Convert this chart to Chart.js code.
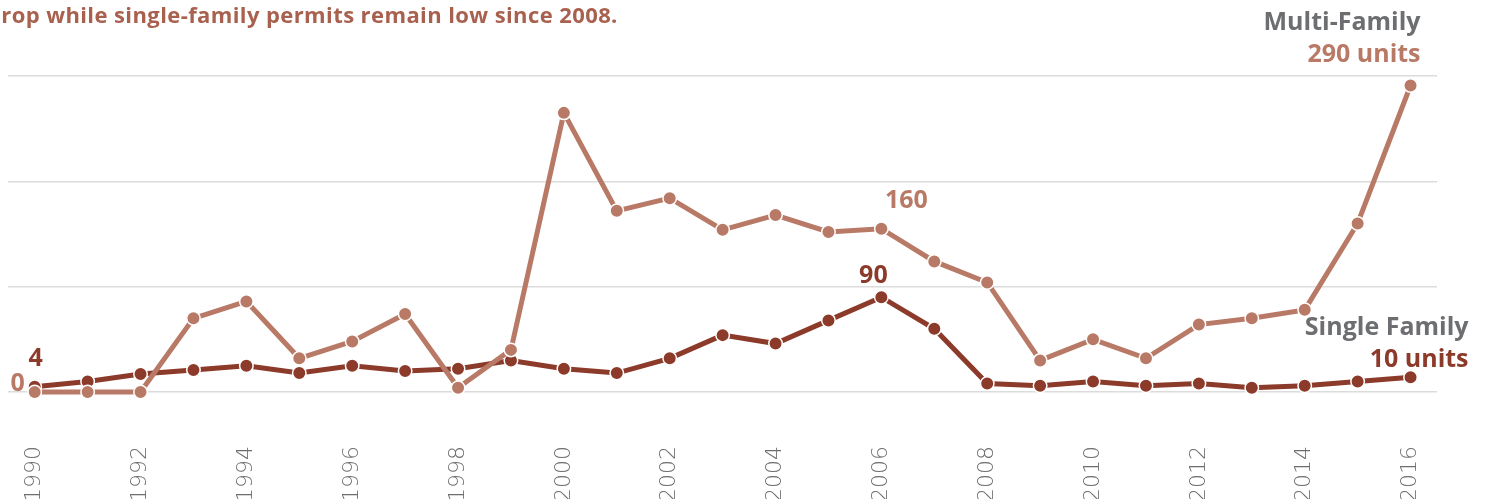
<!DOCTYPE html>
<html>
<head>
<meta charset="utf-8">
<script src="https://cdn.jsdelivr.net/npm/chart.js@4.4.1/dist/chart.umd.min.js"></script>
<style>
  html, body { margin: 0; padding: 0; background: #ffffff; overflow: hidden; }
  #wrap { position: relative; width: 1488px; height: 556px; }
  #title { position: absolute; left: -13px; top: 0px; font-family: "Open Sans", sans-serif; font-weight: 700;
           font-size: 22px; letter-spacing: 0.4px; color: #a9614f; white-space: nowrap; line-height: 28px; }
</style>
</head>
<body>
<div id="wrap">
  <canvas id="c"></canvas>
  <div id="title">drop while single-family permits remain low since 2008.</div>
</div>
<script>
const years = ["1990","1991","1992","1993","1994","1995","1996","1997","1998","1999","2000","2001","2002",
  "2003","2004","2005","2006","2007","2008","2009","2010","2011","2012","2013","2014","2015","2016"];
const multiFamily = [0, 0, 0, 70, 86, 32, 48, 74, 4, 40, 265, 172, 184, 154, 168, 152, 155, 124, 104,
  30, 50, 32, 64, 70, 78, 160, 291];
const singleFamily = [5, 10, 17, 21, 25, 18, 25, 20, 22, 30, 22, 18, 32, 54, 46, 68, 90, 60, 8,
  6, 10, 6, 8, 4, 6, 10, 14];
const yTicks = [0, 100, 200, 300];

const multiColor = "#b87a66";
const singleColor = "#8c3a2a";
const grayText = "#6d6e71";

const labelPlugin = {
  id: "labels",
  afterDatasetsDraw(chart) {
    const ctx = chart.ctx;
    const m = chart.getDatasetMeta(0).data;
    const s = chart.getDatasetMeta(1).data;
    const last = years.length - 1;
    const i06 = years.indexOf("2006");
    ctx.save();
    ctx.textBaseline = "alphabetic";
    const bold = (sz) => "700 " + sz + "px 'Open Sans', sans-serif";
    ctx.font = bold(25);
    ctx.textAlign = "center";
    ctx.fillStyle = multiColor;
    ctx.fillText("160", m[i06].x + 25, m[i06].y - 21);
    ctx.fillStyle = singleColor;
    ctx.fillText("90", s[i06].x - 8, s[i06].y - 14);
    ctx.fillStyle = singleColor;
    ctx.fillText("4", s[0].x + 1, s[0].y - 21);
    ctx.fillStyle = multiColor;
    ctx.fillText("0", m[0].x - 17, m[0].y - 1);
    ctx.textAlign = "right";
    ctx.font = bold(25);
    ctx.fillStyle = grayText;
    ctx.fillText("Multi-Family", m[last].x + 10, m[last].y - 55);
    ctx.fillStyle = multiColor;
    ctx.fillText("290 units", m[last].x + 10, m[last].y - 23);
    ctx.fillStyle = grayText;
    ctx.fillText("Single Family", s[last].x + 58, s[last].y - 42);
    ctx.fillStyle = singleColor;
    ctx.fillText("10 units", s[last].x + 58, s[last].y - 10);
    ctx.restore();
  }
};

new Chart(document.getElementById("c"), {
  type: "line",
  data: {
    labels: years,
    datasets: [
      {
        label: "Multi-Family",
        data: multiFamily,
        borderColor: multiColor,
        backgroundColor: multiColor,
        borderWidth: 5,
        pointRadius: 6.75,
        pointBorderColor: "#ffffff",
        pointBorderWidth: 1.5,
        pointBackgroundColor: multiColor,
        tension: 0,
        clip: false
      },
      {
        label: "Single Family",
        data: singleFamily,
        borderColor: singleColor,
        backgroundColor: singleColor,
        borderWidth: 5,
        pointRadius: 6.75,
        pointBorderColor: "#ffffff",
        pointBorderWidth: 1.5,
        pointBackgroundColor: singleColor,
        tension: 0,
        clip: false
      }
    ]
  },
  options: {
    responsive: true,
    maintainAspectRatio: false,
    animation: false,
    layout: { padding: { left: 8, right: 51, top: 76, bottom: 0 } },
    plugins: { legend: { display: false }, tooltip: { enabled: false } },
    scales: {
      x: {
        offset: true,
        afterFit: (axis) => { axis.paddingLeft = 0; axis.paddingRight = 0; },
        grid: { display: false, drawTicks: false },
        border: { display: false },
        ticks: {
          autoSkip: false,
          minRotation: 90,
          maxRotation: 90,
          padding: 54,
          color: "#6e6e6e",
          font: { family: "'DejaVu Sans'", size: 22, weight: 300 },
          callback: function (v, i) { return i % 2 === 0 ? years[i] : ""; }
        }
      },
      y: {
        min: 0,
        max: 300,
        afterBuildTicks: (axis) => { axis.ticks = yTicks.map(v => ({ value: v })); },
        afterFit: (axis) => { axis.width = 0; },
        grid: { color: "#dcdcdc", lineWidth: 1.5, drawTicks: false },
        border: { display: false },
        ticks: { display: false }
      }
    }
  },
  plugins: [labelPlugin]
});
</script>
</body>
</html>
